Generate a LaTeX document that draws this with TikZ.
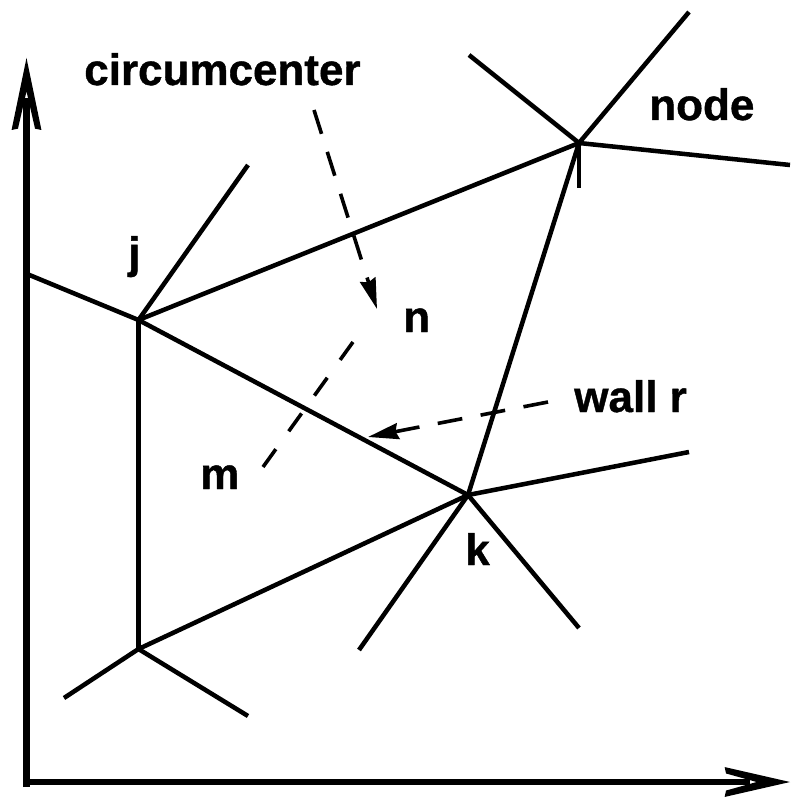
\documentclass[tikz,border=0pt]{standalone}
\usepackage{fontspec}
\setmainfont{Liberation Sans}[BoldFeatures={FakeBold=0.9}]
\usetikzlibrary{arrows.meta}
\newcommand{\declhead}[2]{%
  \pgfdeclarearrow{name=#1,
    setup code={\pgfarrowssettipend{0pt}\pgfarrowssetlineend{-30pt}\pgfarrowssetbackend{-#2}\pgfarrowssetvisualbackend{-30pt}\pgfarrowshullpoint{0pt}{0pt}\pgfarrowshullpoint{-#2}{11.2pt}\pgfarrowshullpoint{-#2}{-11.2pt}},
    drawing code={%
      \pgfpathmoveto{\pgfpointorigin}%
      \pgfpathlineto{\pgfpoint{-#2}{11.2pt}}%
      \pgfpathlineto{\pgfpoint{-#2+1pt}{6.4pt}}%
      \pgfpathlineto{\pgfpoint{-25pt}{0pt}}%
      \pgfpathlineto{\pgfpoint{-#2+1pt}{-6.4pt}}%
      \pgfpathlineto{\pgfpoint{-#2}{-11.2pt}}%
      \pgfpathclose\pgfusepathqfill}}}
\declhead{AxisHeadV}{54pt}
\declhead{AxisHeadH}{49pt}
\tikzset{
  wall/.style={line width=3.4pt},
  axis/.style={line width=5pt},
  guide/.style={line width=2.7pt},
  lead/.style={guide,-{Stealth[length=23pt,width=12pt,inset=2pt]}},
  lbl/.style={anchor=base west,inner sep=0pt,font=\fontsize{33}{36}\selectfont\bfseries}
}
\begin{document}
\begin{tikzpicture}[x=0.75pt,y=-0.75pt]
\useasboundingbox (0,0) rectangle (790,798);
% vertices
\coordinate (j) at (138.5,320);
\coordinate (t) at (579,143);
\coordinate (k) at (468,495);
\coordinate (b) at (138.5,649);
% free ends
\coordinate (jup) at (248,165);
\coordinate (jleft) at (27,274);
\coordinate (t1) at (689,12);
\coordinate (t2) at (469,55);
\coordinate (t3) at (790,165);
\coordinate (t4) at (579,188);
\coordinate (k1) at (689,452);
\coordinate (k2) at (359,650);
\coordinate (k3) at (579,628);
\coordinate (b1) at (64,698);
\coordinate (b2) at (248,716);
% axes
\coordinate (ytip) at (26.5,58);
\coordinate (ybase) at (26.5,787);
\coordinate (xbase) at (26.5,782);
\coordinate (xtip) at (790,782);
\draw[axis,-{AxisHeadV}] (ybase) -- (ytip);
\draw[axis,-{AxisHeadH}] (xbase) -- (xtip);
% walls
\foreach \p/\q in {j/jup,j/jleft,j/t,j/k,j/b,t/t1,t/t2,t/t3,t/t4,t/k,k/k1,k/k2,k/k3,k/b,b/b1,b/b2}
  \draw[wall] (\p) -- (\q);
% dashed guides
\coordinate (c0) at (314,110);
\coordinate (c1) at (377,309);
\coordinate (m0) at (263,467);
\coordinate (m1) at (353,342);
\coordinate (w0) at (548,402);
\coordinate (w1) at (368,437);
\draw[lead,dash pattern=on 18.75pt off 14.2pt] (c0) -- (c1);
\draw[guide,dash pattern=on 16.5pt off 16.5pt] (m0) -- (m1);
\draw[lead,dash pattern=on 18.75pt off 14pt] (w0) -- (w1);
% labels
\node[lbl] (lc) at (84,85) {circumcenter};
\node[lbl] (ln) at (649,120) {node};
\node[lbl] (lj) at (128,268) {j};
\node[lbl] (lnn) at (403,332) {n};
\node[lbl] (lm) at (200,489) {m};
\node[lbl] (lk) at (465,565) {k};
\node[lbl] (lw) at (574,412) {wall r};
\end{tikzpicture}
\end{document}
